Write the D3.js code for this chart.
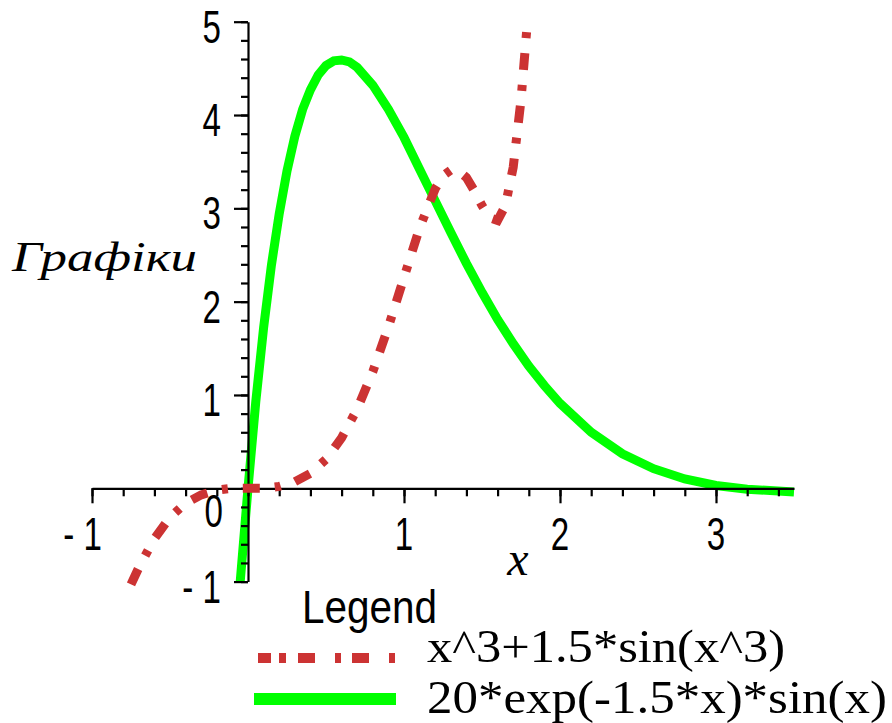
<!DOCTYPE html>
<html>
<head>
<meta charset="utf-8">
<script src="https://cdn.jsdelivr.net/npm/d3@7"></script>
<style>
    body { margin: 0; background: #fff; }
    svg { display: block; }
</style>
</head>
<body>
<div id="chart"></div>
<script>
// series 1: x^3+1.5*sin(x^3)
const redX = [-0.75, -0.7, -0.6, -0.5, -0.4, -0.3, -0.2, -0.1, 0, 0.1, 0.2, 0.3, 0.4, 0.5, 0.6, 0.7, 0.8, 0.9, 1.0, 1.1, 1.2, 1.25, 1.3, 1.35, 1.4, 1.45, 1.5, 1.55, 1.6, 1.65, 1.7, 1.75, 1.8];
const redY = [-1.03, -0.85, -0.54, -0.31, -0.16, -0.07, -0.02, 0, 0, 0, 0.02, 0.07, 0.16, 0.31, 0.54, 0.85, 1.25, 1.73, 2.26, 2.79, 3.21, 3.35, 3.41, 3.4, 3.33, 3.19, 3.03, 2.9, 2.87, 3.03, 3.44, 4.16, 5.18];

// series 2: 20*exp(-1.5*x)*sin(x)
const greenX = [-0.05, 0, 0.05, 0.1, 0.15, 0.2, 0.25, 0.3, 0.35, 0.4, 0.45, 0.5, 0.55, 0.6, 0.65, 0.7, 0.8, 0.9, 1.0, 1.1, 1.2, 1.3, 1.4, 1.5, 1.6, 1.7, 1.8, 1.9, 2.0, 2.2, 2.4, 2.6, 2.8, 3.0, 3.2, 3.5];
const greenY = [-1.0, 0, 0.93, 1.72, 2.39, 2.94, 3.4, 3.77, 4.06, 4.27, 4.43, 4.53, 4.58, 4.59, 4.57, 4.51, 4.32, 4.06, 3.76, 3.42, 3.08, 2.74, 2.41, 2.1, 1.81, 1.55, 1.31, 1.1, 0.91, 0.6, 0.37, 0.21, 0.1, 0.03, -0.01, -0.04];

const xTicks = [-1, 1, 2, 3];
const yTicks = [-1, 1, 2, 3, 4, 5];
const xTickLabels = ['- 1', '1', '2', '3'];
const yTickLabels = ['- 1', '1', '2', '3', '4', '5'];

const legendLabels = ['x^3+1.5*sin(x^3)', '20*exp(-1.5*x)*sin(x)'];
const yTitle = 'Графіки';
const xTitle = 'x';

function draw() {
    const width = 892;
    const height = 723;

    const svg = d3.select('#chart')
        .append('svg')
        .attr('width', width)
        .attr('height', height);

    const xScale = d3.scaleLinear().domain([-1, 3.5]).range([92, 794]);
    const yScale = d3.scaleLinear().domain([-1, 5]).range([581.6, 21.7]);

    svg.append('defs').append('clipPath')
        .attr('id', 'plotclip')
        .append('rect')
        .attr('x', 0)
        .attr('y', yScale(5))
        .attr('width', width)
        .attr('height', yScale(-1) - yScale(5) + 10);

    const line = d3.line()
        .x((d) => xScale(d[0]))
        .y((d) => yScale(d[1]));

    const red = redX.map((x, i) => [x, redY[i]]);
    const green = greenX.map((x, i) => [x, greenY[i]]);

    // green goes under the axes
    svg.append('path')
        .datum(green)
        .attr('clip-path', 'url(#plotclip)')
        .attr('d', line)
        .attr('fill', 'none')
        .attr('stroke', '#00ff00')
        .attr('stroke-width', 9);

    // axes: major + minor ticks, labels drawn separately
    const minorX = d3.range(-1, 3.5001, 0.2).map((d) => +d.toFixed(1));
    const minorY = d3.range(-1, 5.0001, 0.2).map((d) => +d.toFixed(1));

    const xAxisG = svg.append('g').attr('transform', `translate(0, ${yScale(0)})`);
    xAxisG.call(d3.axisBottom(xScale).tickValues(minorX).tickSize(8).tickSizeOuter(0).tickFormat(''));
    xAxisG.append('g').call(d3.axisBottom(xScale).tickValues([-1, 1, 2, 3]).tickSize(15).tickSizeOuter(0).tickFormat(''))
        .select('.domain').remove();

    const yAxisG = svg.append('g').attr('transform', `translate(${xScale(0)}, 0)`);
    yAxisG.call(d3.axisLeft(yScale).tickValues(minorY).tickSize(7).tickSizeOuter(0).tickFormat(''));
    yAxisG.append('g').call(d3.axisLeft(yScale).tickValues([-1, 1, 2, 3, 4, 5]).tickSize(14).tickSizeOuter(0).tickFormat(''))
        .select('.domain').remove();

    svg.selectAll('.domain, .tick line')
        .attr('stroke', '#000')
        .attr('stroke-width', 2.2);

    // red on top of the axes
    svg.append('path')
        .datum(red)
        .attr('clip-path', 'url(#plotclip)')
        .attr('d', line)
        .attr('fill', 'none')
        .attr('stroke', '#cc3333')
        .attr('stroke-width', 9)
        .attr('stroke-dasharray', '17 15 6 15');

    // tick labels (narrow sans)
    const tickFont = (sel) => sel
        .attr('font-family', 'Liberation Sans, Arial, sans-serif')
        .attr('font-size', 46)
        .attr('fill', '#000');

    svg.append('g').selectAll('text')
        .data(xTicks)
        .join('text')
        .attr('transform', (d) => d < 0
            ? `translate(${xScale(d) + 10}, 550) scale(0.72,1)`
            : `translate(${xScale(d)}, 550) scale(0.72,1)`)
        .attr('text-anchor', (d) => d < 0 ? 'end' : 'middle')
        .text((d, i) => xTickLabels[i])
        .call(tickFont);

    svg.append('g').selectAll('text')
        .data(yTicks)
        .join('text')
        .attr('transform', (d) => `translate(221, ${yScale(d) + 21}) scale(0.72,1)`)
        .attr('text-anchor', 'end')
        .text((d, i) => yTickLabels[i])
        .call(tickFont);

    svg.append('text')
        .attr('transform', 'translate(223, 527) scale(0.72,1)')
        .attr('text-anchor', 'end')
        .text('0')
        .call(tickFont);

    // axis titles
    svg.append('text')
        .attr('x', 518)
        .attr('y', 575)
        .attr('text-anchor', 'middle')
        .attr('font-family', 'Liberation Serif, Times New Roman, serif')
        .attr('font-style', 'italic')
        .attr('font-size', 48)
        .text(xTitle);

    svg.append('text')
        .attr('x', 12)
        .attr('y', 271)
        .attr('font-family', 'Liberation Serif, Times New Roman, serif')
        .attr('font-style', 'italic')
        .attr('font-size', 42)
        .attr('textLength', 185)
        .attr('lengthAdjust', 'spacingAndGlyphs')
        .text(yTitle);

    // legend
    svg.append('text')
        .attr('x', 302)
        .attr('y', 623)
        .attr('font-family', 'Liberation Sans, Arial, sans-serif')
        .attr('font-size', 46)
        .attr('textLength', 135)
        .attr('lengthAdjust', 'spacingAndGlyphs')
        .text('Legend');

    svg.append('line')
        .attr('x1', 258).attr('x2', 395)
        .attr('y1', 658).attr('y2', 658)
        .attr('stroke', '#cc3333')
        .attr('stroke-width', 10)
        .attr('stroke-dasharray', '13 8 7 12 17 20 6 11 17 20 7');

    svg.append('line')
        .attr('x1', 254).attr('x2', 396)
        .attr('y1', 699).attr('y2', 699)
        .attr('stroke', '#00ff00')
        .attr('stroke-width', 12);

    svg.append('g').selectAll('text')
        .data(legendLabels)
        .join('text')
        .attr('x', 427)
        .attr('y', (d, i) => i === 0 ? 662 : 713)
        .attr('font-family', 'Liberation Serif, Times New Roman, serif')
        .attr('font-size', 46)
        .attr('textLength', (d, i) => i === 0 ? 358 : 460)
        .attr('lengthAdjust', 'spacingAndGlyphs')
        .text((d) => d);
}

document.addEventListener('DOMContentLoaded', draw);
</script>
</body>
</html>
